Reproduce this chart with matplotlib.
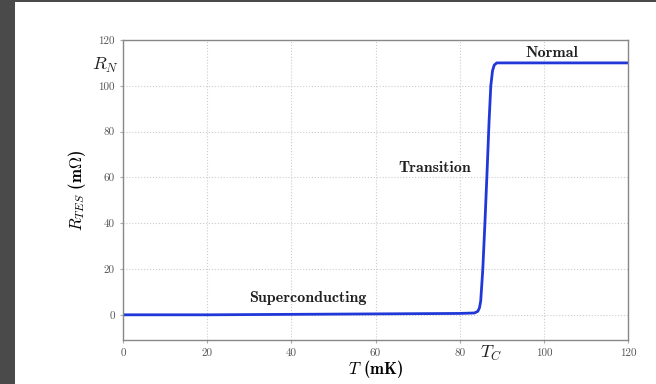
#!/usr/bin/env python3
"""TES resistance vs temperature: superconducting -> transition -> normal."""

import matplotlib
matplotlib.use("Agg")
import matplotlib.pyplot as plt
from matplotlib.patches import Rectangle

# ---- data ----
temp_mk = [0, 20, 40, 60, 80, 83.5, 84.3, 84.7, 85.0, 85.5, 86.0, 86.5,
           87.0, 87.4, 87.8, 88.2, 88.8, 90, 100, 120]
r_tes = [0, 0, 0.2, 0.4, 0.6, 0.8, 1.5, 3, 6, 20, 40, 62,
         85, 100, 106.5, 109, 110, 110, 110, 110]
x_ticks = [0, 20, 40, 60, 80, 100, 120]
y_ticks = [0, 20, 40, 60, 80, 100, 120]
t_c = 87.5
r_n = 110
regions = ["Superconducting", "Transition", "Normal"]
region_xy = [(44, 7.5), (74, 64), (102, 114.5)]

plt.rcParams["mathtext.fontset"] = "cm"
plt.rcParams["font.family"] = ["cmr10", "DejaVu Serif"]
plt.rcParams["axes.formatter.use_mathtext"] = True

fig = plt.figure(figsize=(6.56, 3.84), dpi=100)
fig.patch.set_facecolor("#4a4a4a")
fig.patches.append(Rectangle((15 / 656, 0), 1, 1 - 2 / 384, transform=fig.transFigure,
                             facecolor="white", edgecolor="none", zorder=-10))

ax = fig.add_axes([123 / 656, 44 / 384, 505 / 656, 300 / 384])
ax.plot(temp_mk, r_tes, color="#2038d8", lw=2)
ax.set_xlim(0, 120)
ax.set_ylim(-11, 120)

ax.set_xticks(x_ticks)
ax.set_yticks(y_ticks)
ax.set_xticks([t_c], minor=True)
ax.set_yticks([r_n], minor=True)
ax.set_xticklabels([str(v) for v in x_ticks])
ax.set_yticklabels([str(v) for v in y_ticks])
ax.set_xticklabels([r"$T_C$"], minor=True, fontsize=13)
ax.set_yticklabels([r"$R_N$"], minor=True, fontsize=13)
ax.tick_params(which="major", labelsize=8, labelcolor="#555555", length=2,
               color="#aaaaaa", pad=4)
ax.tick_params(which="minor", length=0, pad=3, labelcolor="#222222")
ax.grid(True, which="major", ls=":", color="#cccccc", lw=0.8)
for s in ax.spines.values():
    s.set_color("#888888")
    s.set_linewidth(1)

ax.set_xlabel(r"$T$ (mK)", fontsize=12, labelpad=-4, family=["cmb10", "DejaVu Serif"])
ax.set_ylabel(r"$R_{TES}$ (m$\Omega$)", fontsize=12, labelpad=3,
              family=["cmb10", "DejaVu Serif"])

for txt, (x, y) in zip(regions, region_xy):
    ax.text(x, y, txt, ha="center", va="center", fontsize=11.5,
            family=["cmb10", "DejaVu Serif"], color="#222222")

fig.savefig("out.png", dpi=100, facecolor=fig.get_facecolor())
